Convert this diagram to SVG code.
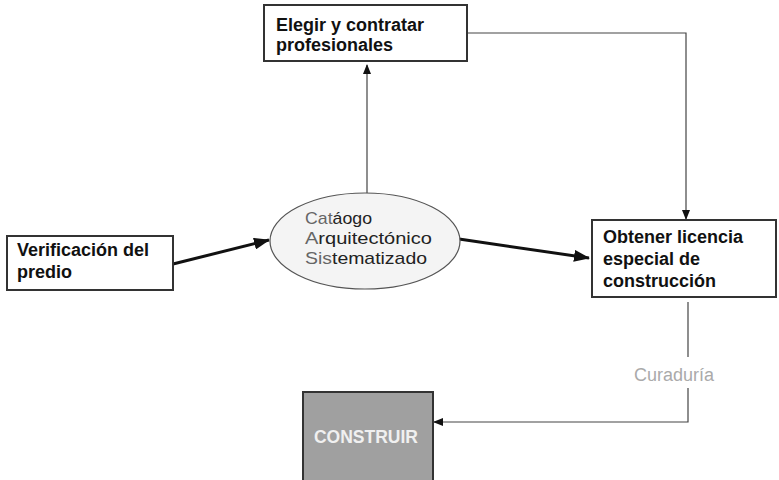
<svg xmlns="http://www.w3.org/2000/svg" width="779" height="480" viewBox="0 0 779 480">
<defs>
<marker id="ah" markerWidth="10" markerHeight="8" refX="9" refY="4" orient="auto" markerUnits="userSpaceOnUse"><path d="M0,0 L10,4 L0,8 Z" fill="#111"/></marker>
<marker id="ahb" markerWidth="16" markerHeight="12" refX="15" refY="6" orient="auto" markerUnits="userSpaceOnUse"><path d="M0,0 L16,6 L0,12 Z" fill="#111"/></marker>
</defs>
<style>
.box{fill:#fff;stroke:#333;stroke-width:2}
.bt{font-family:"Liberation Sans",Arial,sans-serif;font-weight:bold;font-size:18px;fill:#111}
.et{font-family:"Liberation Sans",Arial,sans-serif;font-size:17px;fill:#222}
.g{fill:#666}
.thin{fill:none;stroke:#444;stroke-width:1.2}
.thick{fill:none;stroke:#111;stroke-width:3}
</style>
<rect width="779" height="480" fill="#fff"/>
<g id="connectors">
<path class="thin" d="M367,193 L367,65" marker-end="url(#ah)"/>
<path class="thin" d="M467,33 L686,33 L686,219" marker-end="url(#ah)"/>
<path class="thick" d="M173,264 L269,240" marker-end="url(#ahb)"/>
<path class="thick" d="M459,239 L589,258" marker-end="url(#ahb)"/>
<path class="thin" d="M688,302 L688,357"/>
<path class="thin" d="M688,388 L688,422 L434,422" marker-end="url(#ah)"/>
<text x="674" y="381" text-anchor="middle" font-family="Liberation Sans, Arial, sans-serif" font-size="18" fill="#aaa">Curaduría</text>
</g>
<g id="elegir">
<rect class="box" x="264" y="5" width="203" height="56"/>
<text class="bt" x="276" y="31">Elegir y contratar</text>
<text class="bt" x="276" y="51">profesionales</text>
</g>
<g id="verificacion">
<rect class="box" x="7" y="236" width="166" height="54"/>
<text class="bt" x="17" y="256">Verificación del</text>
<text class="bt" x="17" y="278">predio</text>
</g>
<g id="catalogo">
<ellipse cx="365" cy="241" rx="95" ry="48" fill="#f4f4f4" stroke="#555" stroke-width="1.2"/>
<text class="et" x="305" y="224" textLength="67" lengthAdjust="spacingAndGlyphs"><tspan class="g">Cat</tspan>áogo</text>
<text class="et" x="305" y="244" textLength="127" lengthAdjust="spacingAndGlyphs"><tspan class="g">A</tspan>rquitectónico</text>
<text class="et" x="305" y="264" textLength="122" lengthAdjust="spacingAndGlyphs"><tspan class="g">Sis</tspan>tematizado</text>
</g>
<g id="obtener">
<rect class="box" x="592" y="220" width="184" height="77"/>
<text class="bt" x="603" y="243">Obtener licencia</text>
<text class="bt" x="603" y="265">especial de</text>
<text class="bt" x="603" y="287">construcción</text>
</g>
<g id="construir">
<rect x="303" y="392" width="130" height="90" fill="#a0a0a0" stroke="#333" stroke-width="2"/>
<text x="366" y="443" text-anchor="middle" font-family="Liberation Sans, Arial, sans-serif" font-weight="bold" font-size="17.5" fill="#f0f0f0">CONSTRUIR</text>
</g>
</svg>
